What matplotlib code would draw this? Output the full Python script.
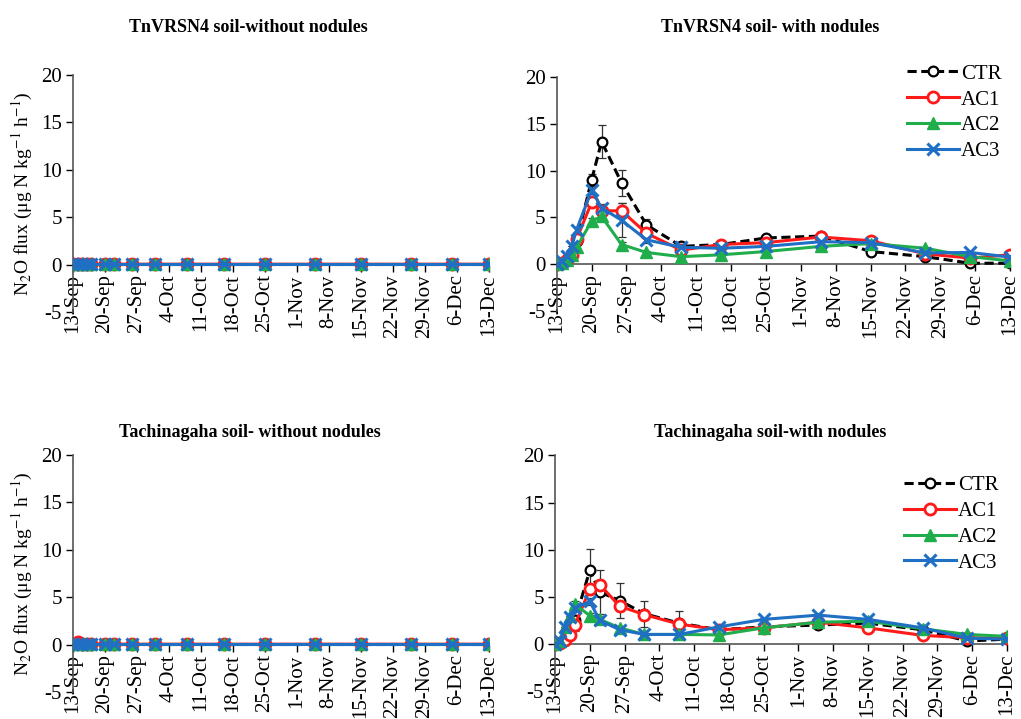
import matplotlib
matplotlib.use('Agg')
import matplotlib.pyplot as plt
import pandas as pd

plt.rcParams['font.family'] = ['Liberation Serif', 'DejaVu Serif']
plt.rcParams['mathtext.fontset'] = 'stix'
plt.rcParams['axes.unicode_minus'] = False

# sampling dates (year is arbitrary)
dates = pd.to_datetime(['2015-09-13', '2015-09-14', '2015-09-15', '2015-09-16', '2015-09-17',
                        '2015-09-20', '2015-09-22', '2015-09-26', '2015-10-01', '2015-10-08',
                        '2015-10-16', '2015-10-25', '2015-11-05', '2015-11-15', '2015-11-26',
                        '2015-12-05', '2015-12-13'])
tick_dates = pd.date_range('2015-09-13', '2015-12-13', freq='7D')
tick_labels = [f'{d.day}-{d.strftime("%b")}' for d in tick_dates]

series_names = ['CTR', 'AC1', 'AC2', 'AC3']

# TnVRSN4 soil - without nodules
tn_without = {
    'CTR': [0.05, 0.05, 0.05, 0.05, 0.05, 0.05, 0.05, 0.05, 0.05, 0.05, 0.05, 0.05, 0.05, 0.05, 0.05, 0.05, 0.05],
    'AC1': [0.1, 0.05, 0.05, 0.05, 0.05, 0.05, 0.05, 0.05, 0.05, 0.05, 0.05, 0.05, 0.05, 0.05, 0.05, 0.05, 0.05],
    'AC2': [0.05, 0.05, 0.05, 0.05, 0.05, 0.05, 0.05, 0.05, 0.05, 0.05, 0.05, 0.05, 0.05, 0.05, 0.05, 0.05, 0.05],
    'AC3': [0.05, 0.05, 0.05, 0.05, 0.05, 0.05, 0.05, 0.05, 0.05, 0.05, 0.05, 0.05, 0.05, 0.05, 0.05, 0.05, 0.05],
}

# TnVRSN4 soil - with nodules
tn_with = {
    'CTR': [0, 0.1, 0.5, 1.2, 2.5, 9.0, 13.1, 8.7, 4.2, 1.9, 2.1, 2.8, 3.0, 1.35, 0.8, 0.1, 0.1],
    'AC1': [0, 0.1, 0.4, 1.0, 2.7, 6.6, 5.7, 5.7, 3.3, 1.5, 2.1, 2.3, 2.9, 2.5, 1.1, 0.65, 1.0],
    'AC2': [0, 0.1, 0.4, 1.0, 1.8, 4.6, 5.1, 2.1, 1.25, 0.8, 1.0, 1.35, 1.9, 2.2, 1.7, 0.8, 0.35],
    'AC3': [0, 0.3, 0.9, 1.9, 3.7, 7.9, 6.0, 4.7, 2.6, 1.8, 1.7, 1.9, 2.4, 2.3, 1.2, 1.25, 0.75],
}
tn_with_err = {
    'CTR': [0, 0, 0, 0, 0.3, 0.6, 1.8, 1.4, 0.6, 0.3, 0.2, 0.3, 0.2, 0.2, 0.2, 0.1, 0.1],
    'AC1': [0, 0, 0, 0, 0.3, 0.4, 0.4, 0.8, 0.3, 0.2, 0.2, 0.2, 0.2, 0.2, 0.1, 0.1, 0.1],
    'AC2': [0, 0, 0, 0, 0.2, 0.3, 0.3, 0.3, 0.2, 0.1, 0.1, 0.1, 0.1, 0.1, 0.1, 0.1, 0.1],
    'AC3': [0, 0, 0, 0, 0.3, 0.4, 0.4, 1.8, 0.3, 0.2, 0.2, 0.2, 0.2, 0.2, 0.1, 0.1, 0.1],
}

# Tachinagaha soil - without nodules
ta_without = {
    'CTR': [0.05, 0.05, 0.05, 0.05, 0.05, 0.05, 0.05, 0.05, 0.05, 0.05, 0.05, 0.05, 0.05, 0.05, 0.05, 0.05, 0.05],
    'AC1': [0.1, 0.3, 0.1, 0.05, 0.05, 0.05, 0.05, 0.05, 0.05, 0.05, 0.05, 0.05, 0.05, 0.05, 0.05, 0.05, 0.05],
    'AC2': [0.05, 0.05, 0.05, 0.05, 0.05, 0.05, 0.05, 0.05, 0.05, 0.05, 0.05, 0.05, 0.05, 0.05, 0.05, 0.05, 0.05],
    'AC3': [0.05, 0.05, 0.05, 0.05, 0.05, 0.05, 0.05, 0.05, 0.05, 0.05, 0.05, 0.05, 0.05, 0.05, 0.05, 0.05, 0.05],
}

# Tachinagaha soil - with nodules
ta_with = {
    'CTR': [0, 0.1, 0.5, 1.2, 2.5, 7.8, 5.5, 4.6, 3.2, 2.2, 1.5, 1.8, 2.0, 2.2, 1.5, 0.3, 0.5],
    'AC1': [0, 0.1, 0.4, 0.9, 2.0, 5.8, 6.3, 4.0, 3.1, 2.1, 1.5, 1.7, 2.3, 1.7, 0.9, 0.65, 0.6],
    'AC2': [0, 0.3, 1.8, 3.0, 4.2, 3.0, 2.6, 1.7, 1.0, 1.0, 0.95, 1.7, 2.3, 2.4, 1.6, 1.0, 0.8],
    'AC3': [0, 0.3, 1.8, 2.8, 3.8, 4.5, 2.5, 1.5, 1.0, 1.0, 1.8, 2.6, 3.05, 2.6, 1.7, 0.6, 0.5],
}
ta_with_err = {
    'CTR': [0, 0, 0, 0, 0.3, 2.3, 2.3, 1.9, 1.4, 1.3, 0.3, 0.2, 0.3, 0.2, 0.2, 0.1, 0.1],
    'AC1': [0, 0, 0, 0, 0.6, 0.4, 0.5, 0.5, 0.3, 0.3, 0.2, 0.2, 0.2, 0.2, 0.1, 0.1, 0.1],
    'AC2': [0, 0, 0, 0, 0.3, 0.3, 0.3, 0.2, 0.1, 0.1, 0.1, 0.1, 0.1, 0.1, 0.1, 0.1, 0.1],
    'AC3': [0, 0, 0, 0, 0.3, 0.4, 0.3, 0.2, 0.1, 0.1, 0.1, 0.1, 0.1, 0.1, 0.1, 0.1, 0.1],
}

styles = {
    'CTR': dict(color='black', linestyle=(0, (3, 1.5)), marker='o', mfc='white', mec='black', ms=7, mew=1.6),
    'AC1': dict(color='#ff1a1a', linestyle='-', marker='o', mfc='white', mec='#ff1a1a', ms=8, mew=2),
    'AC2': dict(color='#1fae4b', linestyle='-', marker='^', mfc='#1fae4b', mec='#1fae4b', ms=8, mew=1),
    'AC3': dict(color='#1f6fc4', linestyle='-', marker='x', mfc='#1f6fc4', mec='#1f6fc4', ms=8, mew=2.2),
}


def draw_panel(ax, data, err=None, ylabel=True, legend_anchor=None):
    for name in series_names:
        if err is not None:
            ax.errorbar(dates, data[name], yerr=err[name], fmt='none', ecolor='#333333',
                        elinewidth=0.9, capsize=3, capthick=0.9, zorder=1)
        ax.plot(dates, data[name], lw=2.2, label=name, zorder=3, **styles[name])
    ax.set_ylim(-5, 20)
    ax.set_yticks([-5, 0, 5, 10, 15, 20])
    ax.set_xlim(tick_dates[0], tick_dates[-1])
    ax.set_xticks(tick_dates)
    ax.set_xticklabels(tick_labels)
    ax.tick_params(axis='y', labelsize=15, direction='out', length=5, width=1, pad=3)
    ax.tick_params(axis='x', labelsize=15, labelrotation=90, direction='out', length=5, width=1, pad=2)
    ax.spines['top'].set_visible(False)
    ax.spines['right'].set_visible(False)
    ax.spines['bottom'].set_position(('data', 0))
    for sp in ['left', 'bottom']:
        ax.spines[sp].set_color('#555555')
        ax.spines[sp].set_linewidth(1.2)
    if ylabel:
        ax.set_ylabel('N$_2$O flux (μg N kg$^{-1}$ h$^{-1}$)', fontsize=14, labelpad=4)
    if legend_anchor is not None:
        ax.legend(loc='upper right', bbox_to_anchor=legend_anchor, frameon=False, fontsize=15,
                  handlelength=2.5, handletextpad=0.1, labelspacing=0.3, borderaxespad=0)


fig = plt.figure(figsize=(10.21, 7.19), dpi=100)

ax1 = fig.add_axes([0.0715, 0.566, 0.4075, 0.3296])
ax2 = fig.add_axes([0.5453, 0.5675, 0.4440, 0.3255])
ax3 = fig.add_axes([0.0715, 0.0375, 0.4075, 0.3296])
ax4 = fig.add_axes([0.5436, 0.039, 0.4427, 0.3275])

draw_panel(ax1, tn_without)
draw_panel(ax2, tn_with, tn_with_err, ylabel=False, legend_anchor=(1.0, 1.09))
draw_panel(ax3, ta_without)
draw_panel(ax4, ta_with, ta_with_err, ylabel=False, legend_anchor=(1.0, 0.95))

fig.text(0.243, 0.962, 'TnVRSN4 soil-without nodules', ha='center', va='center', fontsize=13, fontweight='bold')
fig.text(0.754, 0.962, 'TnVRSN4 soil- with nodules', ha='center', va='center', fontsize=13, fontweight='bold')
fig.text(0.245, 0.399, 'Tachinagaha soil- without nodules', ha='center', va='center', fontsize=13, fontweight='bold')
fig.text(0.754, 0.399, 'Tachinagaha soil-with nodules', ha='center', va='center', fontsize=13, fontweight='bold')

fig.savefig('out.png', dpi=100)
